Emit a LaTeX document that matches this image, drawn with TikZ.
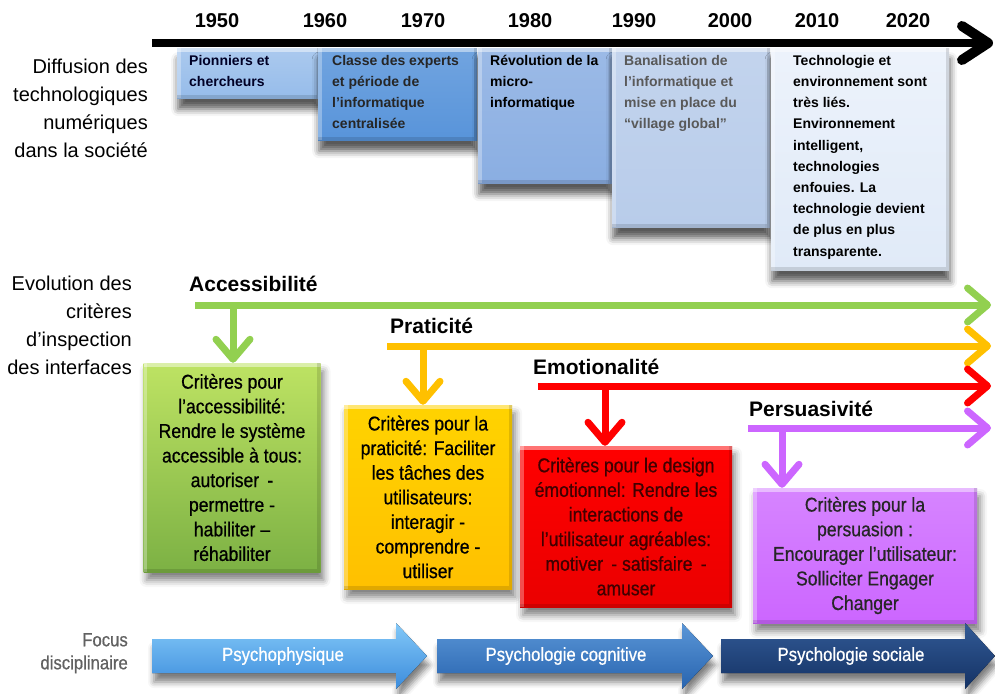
\documentclass[tikz,border=0pt]{standalone}
\usepackage{fontspec}
\setmainfont{Liberation Sans}
\newfontfamily\narrowfont[FakeStretch=0.88, RawFeature={embolden=0.7}]{Liberation Sans}
\usetikzlibrary{arrows.meta,shadows.blur}

\definecolor{accgreen}{RGB}{146,208,80}
\definecolor{pracorange}{RGB}{255,192,0}
\definecolor{emored}{RGB}{255,0,0}
\definecolor{perspurple}{RGB}{204,102,255}
\definecolor{eraA}{RGB}{150,188,234}
\definecolor{eraB}{RGB}{88,148,218}
\definecolor{eraC}{RGB}{138,174,226}
\definecolor{eraD}{RGB}{184,204,234}
\definecolor{eraE}{RGB}{224,234,248}

\begin{document}
\begin{tikzpicture}[x=1pt,y=-1pt,
    year/.style={font=\bfseries\fontsize{20}{24}\selectfont, inner sep=0},
    bevel/.style={path picture={
        \draw[white, opacity=0.45, line width=7] (path picture bounding box.north west) -- (path picture bounding box.north east);
        \draw[white, opacity=0.3, line width=7] (path picture bounding box.north west) -- (path picture bounding box.south west);
        \draw[black, opacity=0.12, line width=7] (path picture bounding box.south west) -- (path picture bounding box.south east) -- (path picture bounding box.north east);}},
    era/.style={anchor=north west, inner sep=0, bevel,
        blur shadow={shadow xshift=1pt, shadow yshift=-11pt, shadow blur radius=7pt, shadow opacity=65}},
    eratext/.style={anchor=north west, inner sep=0, align=left, font=\bfseries\fontsize{14}{21.2}\selectfont},
    sidelabel/.style={anchor=north east, inner sep=0, align=right, font=\fontsize{20}{28}\selectfont},
    crit/.style={line width=7, -{Straight Barb[round,length=20pt,width=34pt]}},
    critlabel/.style={anchor=base west, inner sep=0, font=\bfseries\fontsize{21}{24}\selectfont},
    critbox/.style={align=center, inner sep=0, bevel, font=\narrowfont\fontsize{20}{24.6}\selectfont,
        blur shadow={shadow xshift=3pt, shadow yshift=-8pt, shadow blur radius=7pt, shadow opacity=50}},
    focusarrow/.style={blur shadow={shadow xshift=2pt, shadow yshift=-9pt, shadow blur radius=6pt, shadow opacity=50}},
    focustext/.style={inner sep=0, text=white, font=\narrowfont\fontsize{19}{22}\selectfont}]
    \useasboundingbox (0,0) rectangle (995,693);

    % Time axis
    \coordinate (tstart) at (152,43);
    \coordinate (tend) at (993,43);
    \draw[line width=7.5, -{Straight Barb[round,length=26pt,width=34pt,line width=10pt]}] (tstart) -- (tend);
    \foreach \yr/\xx in {1950/217, 1960/325, 1970/423, 1980/530, 1990/634, 2000/730, 2010/817, 2020/908}
        \node[year] (y\yr) at (\xx,21) {\yr};

    % Eras of digital diffusion
    \node[era, top color=eraA!80!white, bottom color=eraA, minimum width=143, minimum height=50] (pionniers) at (177,48) {};
    \node[eratext, text=black!75!blue!60!black] at ([shift={(12,7)}]pionniers.north west) {Pionniers et\\chercheurs};
    \node[era, top color=eraB!85!white, bottom color=eraB, minimum width=159, minimum height=92] (experts) at (318,48) {};
    \node[eratext, text=black!85] at ([shift={(14,7)}]experts.north west) {Classe des experts\\et période de\\l’informatique\\centralisée};
    \node[era, top color=eraC!85!white, bottom color=eraC, minimum width=134, minimum height=135] (micro) at (478,48) {};
    \node[eratext] at ([shift={(12,7)}]micro.north west) {Révolution de la\\micro-\\informatique};
    \node[era, top color=eraD!85!white, bottom color=eraD, minimum width=158, minimum height=179] (village) at (612,48) {};
    \node[eratext, text=black!65] at ([shift={(12,7)}]village.north west) {Banalisation de\\l’informatique et\\mise en place du\\“village global”};
    \node[era, top color=eraE!60!white, bottom color=eraE, minimum width=178, minimum height=222] (enfouies) at (771,48) {};
    \node[eratext] at ([shift={(22,7)}]enfouies.north west) {Technologie et\\environnement sont\\très liés.\\Environnement\\intelligent,\\technologies\\enfouies. La\\technologie devient\\de plus en plus\\transparente.};

    % Row titles
    \node[sidelabel] (diffusion) at (148,59) {Diffusion des\\technologiques\\numériques\\dans la société};
    \node[sidelabel] (evolution) at (132,276) {Evolution des\\critères\\d’inspection\\des interfaces};
    \node[sidelabel, text=black!62, font=\narrowfont\fontsize{19}{23}\selectfont] (focus) at (128,633) {Focus\\disciplinaire};

    % Inspection criteria
    \node[critlabel] (acclabel) at (189,291) {Accessibilité};
    \coordinate (accS) at (195,305);
    \coordinate (accE) at (991,305);
    \coordinate (accD) at (233,305);
    \node[critbox, top color=accgreen!75!yellow!80!white, bottom color=accgreen!85!black, minimum width=177, minimum height=209] (accbox) at (232,467.5)
        {Critères pour\\l’accessibilité:\\Rendre le système\\accessible à tous:\\autoriser \,-\\permettre -\\habiliter –\\réhabiliter};
    \draw[crit, accgreen] (accS) -- (accE);
    \draw[crit, accgreen] (accD) -- (accD |- accbox.north);

    \node[critlabel] (pralabel) at (390,333) {Praticité};
    \coordinate (praS) at (387,346);
    \coordinate (praE) at (991,346);
    \coordinate (praD) at (423,346);
    \node[critbox, top color=pracorange!70!yellow, bottom color=pracorange, minimum width=168, minimum height=184] (prabox) at (428,497)
        {Critères pour la\\praticité: Faciliter\\les tâches des\\utilisateurs:\\interagir -\\comprendre -\\utiliser};
    \draw[crit, pracorange] (praS) -- (praE);
    \draw[crit, pracorange] (praD) -- (praD |- prabox.north);

    \node[critlabel] (emolabel) at (533,374) {Emotionalité};
    \coordinate (emoS) at (538,386);
    \coordinate (emoE) at (991,386);
    \coordinate (emoD) at (605,386);
    \node[critbox, text=red!25!black, top color=emored, bottom color=emored!92!black, minimum width=212, minimum height=161] (emobox) at (626,526.5)
        {Critères pour le design\\émotionnel: Rendre les\\interactions de\\l’utilisateur agréables:\\motiver \,- satisfaire \,-\\amuser};
    \draw[crit, emored] (emoS) -- (emoE);
    \draw[crit, emored] (emoD) -- (emoD |- emobox.north);

    \node[critlabel] (perlabel) at (749,416) {Persuasivité};
    \coordinate (perS) at (748,428);
    \coordinate (perE) at (991,428);
    \coordinate (perD) at (782,428);
    \node[critbox, text=black!85, top color=perspurple!80!white, bottom color=perspurple, minimum width=224, minimum height=135] (perbox) at (865,555.5)
        {Critères pour la\\persuasion :\\Encourager l’utilisateur:\\Solliciter Engager\\Changer};
    \draw[crit, perspurple] (perS) -- (perE);
    \draw[crit, perspurple] (perD) -- (perD |- perbox.north);

    % Disciplinary focus
    \fill[focusarrow, top color={rgb,255:red,130;green,200;blue,248}, bottom color={rgb,255:red,60;green,140;blue,220}]
        (152,639) -- (396,639) -- (396,623) -- (427,656) -- (396,689) -- (396,673) -- (152,673) -- cycle;
    \node[focustext] (psyphys) at (283,656) {Psychophysique};
    \fill[focusarrow, top color={rgb,255:red,90;green,150;blue,215}, bottom color={rgb,255:red,40;green,100;blue,175}]
        (437,639) -- (682,639) -- (682,623) -- (713,656) -- (682,689) -- (682,673) -- (437,673) -- cycle;
    \node[focustext] (psycog) at (566,656) {Psychologie cognitive};
    \fill[focusarrow, top color={rgb,255:red,50;green,90;blue,150}, bottom color={rgb,255:red,20;green,50;blue,100}]
        (721,639) -- (965,639) -- (965,623) -- (995,656) -- (965,689) -- (965,673) -- (721,673) -- cycle;
    \node[focustext] (psysoc) at (851,656) {Psychologie sociale};
\end{tikzpicture}
\end{document}
